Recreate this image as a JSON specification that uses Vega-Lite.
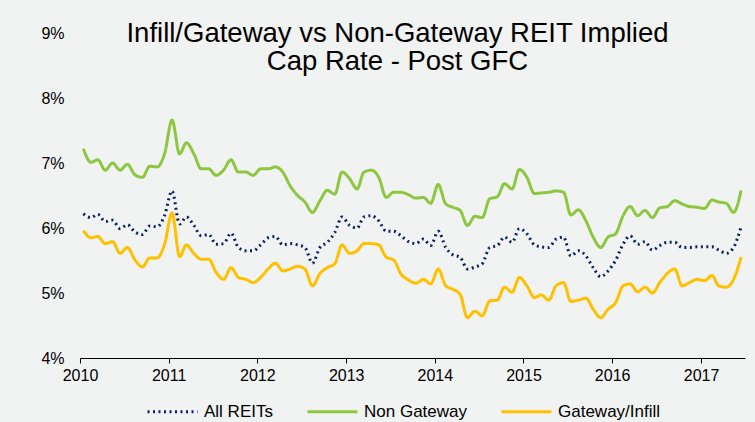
{
  "$schema": "https://vega.github.io/schema/vega-lite/v6.json",
  "width": 665,
  "height": 325,
  "autosize": {"type": "none"},
  "padding": {"left": 80, "top": 33, "right": 10, "bottom": 64},
  "background": "#f1f2f2",
  "title": {
    "text": ["Infill/Gateway vs Non-Gateway REIT Implied", "Cap Rate - Post GFC"],
    "font": "Liberation Sans",
    "fontSize": 27.5,
    "fontWeight": "normal",
    "color": "#000000",
    "lineHeight": 28,
    "anchor": "middle",
    "offset": -50,
    "dx": -15
  },
  "data": {
    "values": [
      {"d": "2010-01-15", "All REITs": 6.22, "Non Gateway": 7.22, "Gateway/Infill": 5.96},
      {"d": "2010-02-15", "All REITs": 6.16, "Non Gateway": 7.01, "Gateway/Infill": 5.85},
      {"d": "2010-03-15", "All REITs": 6.21, "Non Gateway": 7.05, "Gateway/Infill": 5.87},
      {"d": "2010-04-15", "All REITs": 6.10, "Non Gateway": 6.89, "Gateway/Infill": 5.76},
      {"d": "2010-05-15", "All REITs": 6.12, "Non Gateway": 7.00, "Gateway/Infill": 5.79},
      {"d": "2010-06-15", "All REITs": 5.99, "Non Gateway": 6.89, "Gateway/Infill": 5.61},
      {"d": "2010-07-15", "All REITs": 6.05, "Non Gateway": 6.98, "Gateway/Infill": 5.70},
      {"d": "2010-08-15", "All REITs": 5.94, "Non Gateway": 6.82, "Gateway/Infill": 5.51},
      {"d": "2010-09-15", "All REITs": 5.90, "Non Gateway": 6.78, "Gateway/Infill": 5.40},
      {"d": "2010-10-15", "All REITs": 6.03, "Non Gateway": 6.95, "Gateway/Infill": 5.54},
      {"d": "2010-11-15", "All REITs": 6.02, "Non Gateway": 6.94, "Gateway/Infill": 5.54},
      {"d": "2010-12-15", "All REITs": 6.19, "Non Gateway": 7.14, "Gateway/Infill": 5.75},
      {"d": "2011-01-15", "All REITs": 6.57, "Non Gateway": 7.66, "Gateway/Infill": 6.23},
      {"d": "2011-02-15", "All REITs": 6.06, "Non Gateway": 7.14, "Gateway/Infill": 5.56},
      {"d": "2011-03-15", "All REITs": 6.17, "Non Gateway": 7.31, "Gateway/Infill": 5.74},
      {"d": "2011-04-15", "All REITs": 6.04, "Non Gateway": 7.14, "Gateway/Infill": 5.61},
      {"d": "2011-05-15", "All REITs": 5.88, "Non Gateway": 6.91, "Gateway/Infill": 5.52},
      {"d": "2011-06-15", "All REITs": 5.90, "Non Gateway": 6.91, "Gateway/Infill": 5.52},
      {"d": "2011-07-15", "All REITs": 5.75, "Non Gateway": 6.81, "Gateway/Infill": 5.32},
      {"d": "2011-08-15", "All REITs": 5.76, "Non Gateway": 6.89, "Gateway/Infill": 5.21},
      {"d": "2011-09-15", "All REITs": 5.92, "Non Gateway": 7.05, "Gateway/Infill": 5.39},
      {"d": "2011-10-15", "All REITs": 5.70, "Non Gateway": 6.86, "Gateway/Infill": 5.24},
      {"d": "2011-11-15", "All REITs": 5.65, "Non Gateway": 6.86, "Gateway/Infill": 5.21},
      {"d": "2011-12-15", "All REITs": 5.65, "Non Gateway": 6.81, "Gateway/Infill": 5.16},
      {"d": "2012-01-15", "All REITs": 5.74, "Non Gateway": 6.91, "Gateway/Infill": 5.24},
      {"d": "2012-02-15", "All REITs": 5.85, "Non Gateway": 6.91, "Gateway/Infill": 5.37},
      {"d": "2012-03-15", "All REITs": 5.87, "Non Gateway": 6.94, "Gateway/Infill": 5.46},
      {"d": "2012-04-15", "All REITs": 5.74, "Non Gateway": 6.86, "Gateway/Infill": 5.34},
      {"d": "2012-05-15", "All REITs": 5.76, "Non Gateway": 6.65, "Gateway/Infill": 5.37},
      {"d": "2012-06-15", "All REITs": 5.74, "Non Gateway": 6.50, "Gateway/Infill": 5.41},
      {"d": "2012-07-15", "All REITs": 5.70, "Non Gateway": 6.40, "Gateway/Infill": 5.37},
      {"d": "2012-08-15", "All REITs": 5.46, "Non Gateway": 6.24, "Gateway/Infill": 5.11},
      {"d": "2012-09-15", "All REITs": 5.70, "Non Gateway": 6.42, "Gateway/Infill": 5.30},
      {"d": "2012-10-15", "All REITs": 5.78, "Non Gateway": 6.58, "Gateway/Infill": 5.39},
      {"d": "2012-11-15", "All REITs": 5.93, "Non Gateway": 6.52, "Gateway/Infill": 5.45},
      {"d": "2012-12-15", "All REITs": 6.17, "Non Gateway": 6.86, "Gateway/Infill": 5.74},
      {"d": "2013-01-15", "All REITs": 6.04, "Non Gateway": 6.76, "Gateway/Infill": 5.61},
      {"d": "2013-02-15", "All REITs": 6.00, "Non Gateway": 6.60, "Gateway/Infill": 5.65},
      {"d": "2013-03-15", "All REITs": 6.17, "Non Gateway": 6.86, "Gateway/Infill": 5.76},
      {"d": "2013-04-15", "All REITs": 6.19, "Non Gateway": 6.89, "Gateway/Infill": 5.76},
      {"d": "2013-05-15", "All REITs": 6.11, "Non Gateway": 6.78, "Gateway/Infill": 5.74},
      {"d": "2013-06-15", "All REITs": 5.95, "Non Gateway": 6.47, "Gateway/Infill": 5.55},
      {"d": "2013-07-15", "All REITs": 5.95, "Non Gateway": 6.55, "Gateway/Infill": 5.51},
      {"d": "2013-08-15", "All REITs": 5.88, "Non Gateway": 6.55, "Gateway/Infill": 5.29},
      {"d": "2013-09-15", "All REITs": 5.79, "Non Gateway": 6.51, "Gateway/Infill": 5.20},
      {"d": "2013-10-15", "All REITs": 5.76, "Non Gateway": 6.46, "Gateway/Infill": 5.15},
      {"d": "2013-11-15", "All REITs": 5.83, "Non Gateway": 6.47, "Gateway/Infill": 5.21},
      {"d": "2013-12-15", "All REITs": 5.73, "Non Gateway": 6.38, "Gateway/Infill": 5.14},
      {"d": "2014-01-15", "All REITs": 5.95, "Non Gateway": 6.67, "Gateway/Infill": 5.37},
      {"d": "2014-02-15", "All REITs": 5.70, "Non Gateway": 6.37, "Gateway/Infill": 5.11},
      {"d": "2014-03-15", "All REITs": 5.59, "Non Gateway": 6.32, "Gateway/Infill": 5.06},
      {"d": "2014-04-15", "All REITs": 5.55, "Non Gateway": 6.27, "Gateway/Infill": 4.98},
      {"d": "2014-05-15", "All REITs": 5.37, "Non Gateway": 6.04, "Gateway/Infill": 4.62},
      {"d": "2014-06-15", "All REITs": 5.40, "Non Gateway": 6.18, "Gateway/Infill": 4.72},
      {"d": "2014-07-15", "All REITs": 5.45, "Non Gateway": 6.16, "Gateway/Infill": 4.65},
      {"d": "2014-08-15", "All REITs": 5.70, "Non Gateway": 6.45, "Gateway/Infill": 4.88},
      {"d": "2014-09-15", "All REITs": 5.73, "Non Gateway": 6.48, "Gateway/Infill": 4.89},
      {"d": "2014-10-15", "All REITs": 5.86, "Non Gateway": 6.68, "Gateway/Infill": 5.09},
      {"d": "2014-11-15", "All REITs": 5.78, "Non Gateway": 6.60, "Gateway/Infill": 5.01},
      {"d": "2014-12-15", "All REITs": 5.99, "Non Gateway": 6.90, "Gateway/Infill": 5.24},
      {"d": "2015-01-15", "All REITs": 5.91, "Non Gateway": 6.78, "Gateway/Infill": 5.11},
      {"d": "2015-02-15", "All REITs": 5.74, "Non Gateway": 6.53, "Gateway/Infill": 4.93},
      {"d": "2015-03-15", "All REITs": 5.71, "Non Gateway": 6.54, "Gateway/Infill": 4.97},
      {"d": "2015-04-15", "All REITs": 5.70, "Non Gateway": 6.55, "Gateway/Infill": 4.89},
      {"d": "2015-05-15", "All REITs": 5.83, "Non Gateway": 6.57, "Gateway/Infill": 5.11},
      {"d": "2015-06-15", "All REITs": 5.86, "Non Gateway": 6.55, "Gateway/Infill": 5.16},
      {"d": "2015-07-15", "All REITs": 5.57, "Non Gateway": 6.20, "Gateway/Infill": 4.87},
      {"d": "2015-08-15", "All REITs": 5.65, "Non Gateway": 6.28, "Gateway/Infill": 4.89},
      {"d": "2015-09-15", "All REITs": 5.57, "Non Gateway": 6.11, "Gateway/Infill": 4.92},
      {"d": "2015-10-15", "All REITs": 5.39, "Non Gateway": 5.86, "Gateway/Infill": 4.75},
      {"d": "2015-11-15", "All REITs": 5.25, "Non Gateway": 5.70, "Gateway/Infill": 4.62},
      {"d": "2015-12-15", "All REITs": 5.34, "Non Gateway": 5.86, "Gateway/Infill": 4.75},
      {"d": "2016-01-15", "All REITs": 5.50, "Non Gateway": 5.91, "Gateway/Infill": 4.85},
      {"d": "2016-02-15", "All REITs": 5.75, "Non Gateway": 6.19, "Gateway/Infill": 5.11},
      {"d": "2016-03-15", "All REITs": 5.88, "Non Gateway": 6.33, "Gateway/Infill": 5.14},
      {"d": "2016-04-15", "All REITs": 5.75, "Non Gateway": 6.19, "Gateway/Infill": 5.02},
      {"d": "2016-05-15", "All REITs": 5.79, "Non Gateway": 6.27, "Gateway/Infill": 5.09},
      {"d": "2016-06-15", "All REITs": 5.66, "Non Gateway": 6.16, "Gateway/Infill": 5.00},
      {"d": "2016-07-15", "All REITs": 5.73, "Non Gateway": 6.31, "Gateway/Infill": 5.16},
      {"d": "2016-08-15", "All REITs": 5.78, "Non Gateway": 6.33, "Gateway/Infill": 5.30},
      {"d": "2016-09-15", "All REITs": 5.78, "Non Gateway": 6.42, "Gateway/Infill": 5.37},
      {"d": "2016-10-15", "All REITs": 5.70, "Non Gateway": 6.37, "Gateway/Infill": 5.11},
      {"d": "2016-11-15", "All REITs": 5.70, "Non Gateway": 6.33, "Gateway/Infill": 5.16},
      {"d": "2016-12-15", "All REITs": 5.71, "Non Gateway": 6.32, "Gateway/Infill": 5.21},
      {"d": "2017-01-15", "All REITs": 5.71, "Non Gateway": 6.30, "Gateway/Infill": 5.19},
      {"d": "2017-02-15", "All REITs": 5.71, "Non Gateway": 6.43, "Gateway/Infill": 5.27},
      {"d": "2017-03-15", "All REITs": 5.66, "Non Gateway": 6.40, "Gateway/Infill": 5.11},
      {"d": "2017-04-15", "All REITs": 5.61, "Non Gateway": 6.38, "Gateway/Infill": 5.09},
      {"d": "2017-05-15", "All REITs": 5.70, "Non Gateway": 6.24, "Gateway/Infill": 5.21},
      {"d": "2017-06-15", "All REITs": 6.02, "Non Gateway": 6.58, "Gateway/Infill": 5.55}
    ]
  },
  "transform": [
    {"fold": ["All REITs", "Non Gateway", "Gateway/Infill"], "as": ["series", "value"]}
  ],
  "mark": {"type": "line", "interpolate": "monotone", "strokeWidth": 3},
  "encoding": {
    "x": {
      "field": "d",
      "type": "temporal",
      "scale": {
        "type": "utc",
        "domain": [
          {"year": 2010, "month": 1, "date": 1, "utc": true},
          {"year": 2017, "month": 7, "date": 1, "utc": true}
        ]
      },
      "axis": {
        "title": null,
        "format": "%Y",
        "tickCount": {"interval": "year", "step": 1},
        "grid": false,
        "domainColor": "#000000",
        "tickColor": "#000000",
        "tickSize": 5,
        "labelFont": "Liberation Sans",
        "labelFontSize": 16,
        "labelColor": "#000000",
        "labelPadding": 4,
        "labelFlush": false
      }
    },
    "y": {
      "field": "value",
      "type": "quantitative",
      "scale": {"domain": [4, 9], "zero": false, "nice": false},
      "axis": {
        "title": null,
        "values": [4, 5, 6, 7, 8, 9],
        "labelExpr": "datum.value + '%'",
        "grid": false,
        "domain": false,
        "ticks": false,
        "labelFont": "Liberation Sans",
        "labelFontSize": 16,
        "labelColor": "#000000",
        "labelPadding": 16
      }
    },
    "color": {
      "field": "series",
      "type": "nominal",
      "scale": {
        "domain": ["All REITs", "Non Gateway", "Gateway/Infill"],
        "range": ["#0b2160", "#8dc63f", "#ffc000"]
      },
      "legend": {
        "title": null,
        "orient": "none",
        "legendX": 66,
        "legendY": 352,
        "direction": "horizontal",
        "symbolType": "stroke",
        "symbolSize": 2500,
        "symbolStrokeWidth": 3,
        "labelFont": "Liberation Sans",
        "labelFontSize": 17,
        "labelColor": "#000000",
        "labelOffset": 5,
        "columnPadding": 28
      }
    },
    "strokeDash": {
      "field": "series",
      "type": "nominal",
      "scale": {
        "domain": ["All REITs", "Non Gateway", "Gateway/Infill"],
        "range": [[2, 3.5], [1, 0], [1, 0]]
      },
      "legend": null
    }
  },
  "config": {"view": {"stroke": null}}
}
